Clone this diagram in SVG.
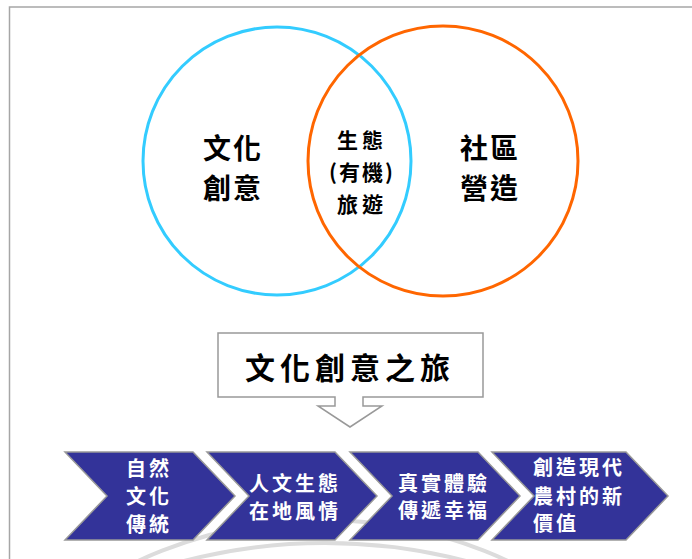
<svg xmlns="http://www.w3.org/2000/svg" width="692" height="559" viewBox="0 0 692 559">
<style>
.lbl{font-family:"Noto Sans CJK TC","Noto Sans CJK SC",sans-serif;font-weight:bold;fill:#000;text-anchor:middle;dominant-baseline:central}
.chev{fill:#333399;stroke:#999;stroke-width:1.5}
.ct{font-family:"Noto Sans CJK TC","Noto Sans CJK SC",sans-serif;font-weight:bold;fill:#fff;font-size:20px;letter-spacing:3px;dominant-baseline:central}
.arc{fill:none;stroke:#dcdcdc;stroke-width:4}
</style>
<rect x="0" y="0" width="692" height="559" fill="#fff"/>
<path d="M9.5 559 V7 H692" fill="none" stroke="#a6a6a6" stroke-width="1.5"/>
<g id="bg-arcs">
<circle class="arc" cx="323" cy="957" r="437"/>
<circle class="arc" cx="325" cy="1103" r="560"/>
</g>
<g id="venn">
<g id="circle-culture">
<circle cx="277" cy="161" r="134" fill="none" stroke="#33ccff" stroke-width="3"/>
<text class="lbl" font-size="28" x="233" y="147" letter-spacing="2">文化</text>
<text class="lbl" font-size="28" x="233" y="187" letter-spacing="2">創意</text>
</g>
<g id="circle-community">
<circle cx="443" cy="161" r="135" fill="none" stroke="#ff6600" stroke-width="3"/>
<text class="lbl" font-size="28" x="490" y="147" letter-spacing="2">社區</text>
<text class="lbl" font-size="28" x="490" y="187" letter-spacing="2">營造</text>
</g>
<g id="overlap">
<text class="lbl" font-size="21" x="362" y="139" letter-spacing="4">生態</text>
<text class="lbl" font-size="21" x="362" y="171" letter-spacing="2">(有機)</text>
<text class="lbl" font-size="21" x="362" y="203" letter-spacing="4">旅遊</text>
</g>
</g>
<g id="title-box">
<path d="M218 333 H483 V397 H363 V406 H382 L350 427 L318 406 H335 V397 H218 Z" fill="#fff" stroke="#999" stroke-width="1.5"/>
<text class="lbl" font-size="30" x="350" y="366" letter-spacing="5">文化創意之旅</text>
</g>
<g id="chevrons">
<g id="step1">
<path class="chev" d="M65 452 H193 L235 496 L193 540 H65 L107 496 Z"/>
<text class="ct" x="149" y="467" text-anchor="middle">自然</text>
<text class="ct" x="149" y="495" text-anchor="middle">文化</text>
<text class="ct" x="149" y="523" text-anchor="middle">傳統</text>
</g>
<g id="step2">
<path class="chev" d="M207 452 H335 L377 496 L335 540 H207 L249 496 Z"/>
<text class="ct" x="295" y="482" text-anchor="middle">人文生態</text>
<text class="ct" x="295" y="510" text-anchor="middle">在地風情</text>
</g>
<g id="step3">
<path class="chev" d="M350 452 H478 L520 496 L478 540 H350 L392 496 Z"/>
<text class="ct" x="444" y="482" text-anchor="middle">真實體驗</text>
<text class="ct" x="444" y="509" text-anchor="middle">傳遞幸福</text>
</g>
<g id="step4">
<path class="chev" d="M492 452 H626 L668 496 L626 540 H492 L534 496 Z"/>
<text class="ct" x="533" y="466">創造現代</text>
<text class="ct" x="533" y="495">農村的新</text>
<text class="ct" x="533" y="522">價值</text>
</g>
</g>
</svg>
